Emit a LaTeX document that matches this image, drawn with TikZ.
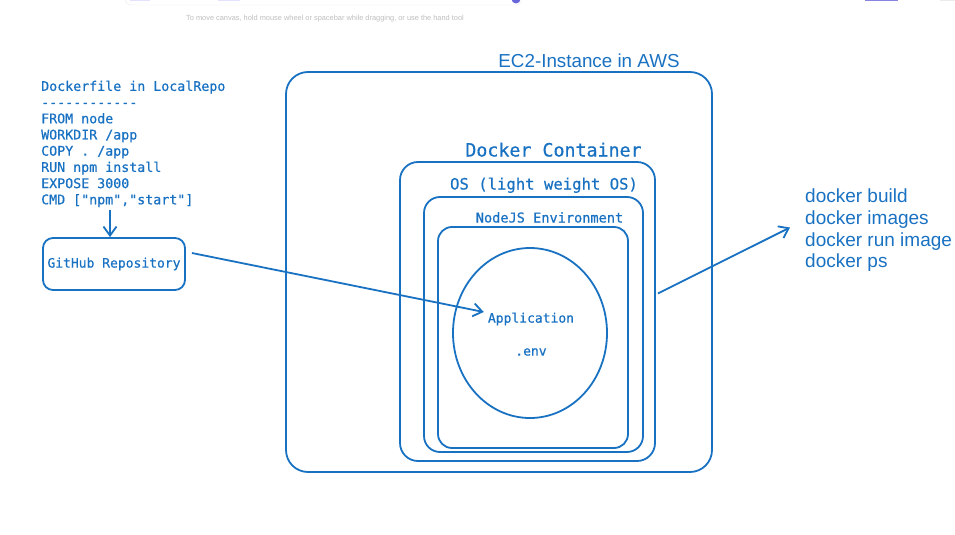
\documentclass[tikz,border=0pt]{standalone}
\usepackage{fontspec}
\setmainfont{Liberation Sans}
\newfontfamily\monof[FakeBold=0.6]{DejaVu Sans Mono}
\usetikzlibrary{arrows.meta,shapes.geometric}
\definecolor{exblue}{HTML}{1971C2}
\definecolor{hintgray}{HTML}{BDBDBD}
\definecolor{uipurple}{HTML}{6965DB}
\definecolor{uilav}{HTML}{E3E2FE}
\tikzset{
  box/.style={draw=exblue, line width=1.8pt, rounded corners=#1},
  box/.default=18pt,
  arr/.style={draw=exblue, line width=1.8pt, -{Straight Barb[length=9pt,width=13pt,line width=1.8pt]}},
  mtext/.style={text=exblue, inner sep=0pt, font=\monof\fontsize{#1}{#1}\selectfont},
  stext/.style={text=exblue, inner sep=0pt, font=\fontsize{19}{21.7}\selectfont},
}
\begin{document}
\begin{tikzpicture}[x=1pt,y=-1pt]
\useasboundingbox (0,0) rectangle (955,535);
% UI chrome
\draw[draw=black!8, fill=white, rounded corners=6pt] (125,-20) rectangle (522,5);
\fill[uilav] (130,-5) rectangle (150,1.5);
\fill[uilav] (218,-5) rectangle (240,1.5);
\fill[uipurple] (516,-1) circle (4.5pt);
\fill[uipurple!80] (865,-4) rectangle (898,1);
\fill[black!8] (940,-4) rectangle (955,1);
\node[text=hintgray, inner sep=0pt, font=\fontsize{7.4}{9}\selectfont] (hint) at (325,19) {To move canvas, hold mouse wheel or spacebar while dragging, or use the hand tool};

% Dockerfile text
\node[mtext=13.3, anchor=north west, align=left, font=\monof\fontsize{13.3}{16.2}\selectfont] (df) at (41,80.5)
 {Dockerfile in LocalRepo\\------------\\FROM node\\WORKDIR /app\\COPY . /app\\RUN npm install\\EXPOSE 3000\\CMD ["npm","start"]};
\coordinate (dfend) at (110,210);

% GitHub box
\node[box=10pt, mtext=13, minimum width=142pt, minimum height=52pt, draw=exblue] (gh) at (114,264) {GitHub Repository};
\draw[arr] (dfend) -- (dfend |- gh.north);

% EC2 instance
\draw[box=22pt] (286,72) rectangle (712,472);
\node[text=exblue, inner sep=0pt, font=\fontsize{18.8}{20}\selectfont, anchor=base] (ec2) at (589,67) {EC2-Instance in AWS};

% Docker container
\node[box=18pt, minimum width=255pt, minimum height=299pt, inner sep=0pt] (dc) at (527.5,311.5) {};
\node[mtext=18.3, anchor=base] (dcl) at (553.5,156.5) {Docker Container};
% OS
\draw[box=16pt] (424,197) rectangle (643,452);
\node[mtext=15.6, anchor=base] (osl) at (544,189.5) {OS (light weight OS)};
% NodeJS
\draw[box=14pt] (438,227) rectangle (628,448);
\node[mtext=13.6, anchor=base] (njl) at (549.5,222.5) {NodeJS Environment};
% Application ellipse
\draw[draw=exblue, line width=1.8pt] (530,333) ellipse [x radius=77pt, y radius=85pt];
\node[mtext=13, inner sep=1pt] (app) at (531,319) {Application};
\node[mtext=13] (env) at (531,352) {.env};

% commands
\node[stext, anchor=west, align=left] (cmds) at (805,230.5) {docker build\\docker images\\docker run image\\docker ps};

% connectors
\draw[arr] ([xshift=6pt,yshift=11pt]gh.east) -- ([xshift=-3pt,yshift=7pt]app.west);
\draw[arr] ([xshift=2pt,yshift=18pt]dc.east) -- ([xshift=-15pt,yshift=3pt]cmds.west);
\end{tikzpicture}
\end{document}
